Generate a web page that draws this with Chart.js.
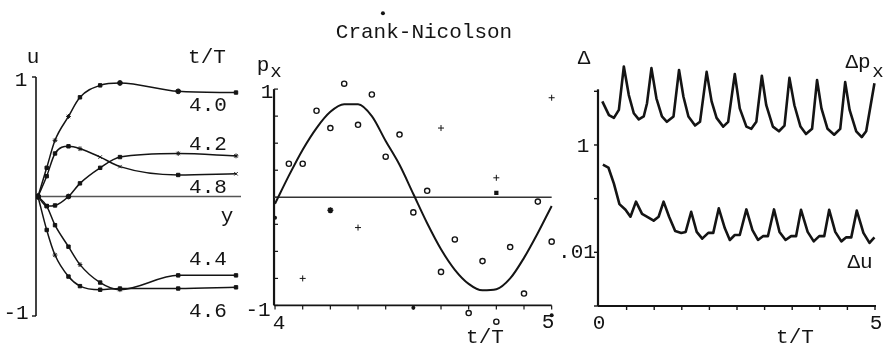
<!DOCTYPE html>
<html>
<head>
<meta charset="utf-8">
<script src="https://cdn.jsdelivr.net/npm/chart.js@4/dist/chart.umd.min.js"></script>
<style>
  html, body { margin: 0; padding: 0; background: #fff; }
  #wrap { position: relative; width: 891px; height: 348px; overflow: hidden; background: #fff; }
  #wrap canvas { position: absolute; left: 0; top: 0; }
  .t { position: absolute; font-family: "Liberation Mono", monospace; font-size: 21px; color: #141414;
       line-height: 1; white-space: nowrap; transform: translate(-50%, -50%); }
  .s { position: absolute; font-family: "Liberation Mono", monospace; font-size: 19px; color: #141414;
       line-height: 1; white-space: nowrap; transform: translate(-50%, -50%); }
</style>
</head>
<body>
<div id="wrap">
  <canvas id="c1" width="891" height="348"></canvas>
  <canvas id="c2" width="891" height="348"></canvas>
  <canvas id="c3" width="891" height="348"></canvas>

  <!-- velocity profiles -->
  <div class="t" style="left:33px;top:57px">u</div>
  <div class="t" style="left:207px;top:57px">t/T</div>
  <div class="t" style="left:21px;top:80px">1</div>
  <div class="t" style="left:16px;top:313px">-1</div>
  <div class="t" style="left:208px;top:105px">4.0</div>
  <div class="t" style="left:208px;top:144px">4.2</div>
  <div class="t" style="left:208px;top:187px">4.8</div>
  <div class="t" style="left:227px;top:216px">y</div>
  <div class="t" style="left:208px;top:259px">4.4</div>
  <div class="t" style="left:208px;top:311px">4.6</div>

  <!-- pressure gradient -->
  <div class="t" style="left:424px;top:32px">Crank-Nicolson</div>
  <div class="t" style="left:263px;top:65px">p</div>
  <div class="s" style="left:276px;top:72px">x</div>
  <div class="t" style="left:267px;top:92px">1</div>
  <div class="t" style="left:258px;top:310px">-1</div>
  <div class="t" style="left:279px;top:323px">4</div>
  <div class="t" style="left:548px;top:322px">5</div>
  <div class="t" style="left:485px;top:337px">t/T</div>

  <!-- error history -->
  <div class="t" style="left:584px;top:58px">Δ</div>
  <div class="t" style="left:858px;top:62px">Δp</div>
  <div class="s" style="left:878px;top:72px">x</div>
  <div class="t" style="left:583px;top:146px">1</div>
  <div class="t" style="left:577px;top:252px">.01</div>
  <div class="t" style="left:860px;top:262px">Δu</div>
  <div class="t" style="left:599px;top:323px">0</div>
  <div class="t" style="left:876px;top:323px">5</div>
  <div class="t" style="left:795px;top:337px">t/T</div>
</div>

<script>
// ---- velocity profiles u(y) at t/T = 4.0 ... 4.8 ----
const yGrid = [0, 0.22, 0.43, 0.77, 1.06, 1.57, 2.07, 3.54, 5.0];
const u40 = [0, 0.24, 0.47, 0.67, 0.83, 0.93, 0.95, 0.88, 0.87];
const u42 = [0, -0.08, -0.075, 0, 0.11, 0.24, 0.33, 0.36, 0.34];
const u44 = [0, -0.08, -0.24, -0.42, -0.57, -0.72, -0.78, -0.66, -0.66];
const u46 = [0, -0.28, -0.49, -0.67, -0.75, -0.78, -0.77, -0.77, -0.76];
const u48 = [0, 0.17, 0.36, 0.42, 0.40, 0.33, 0.25, 0.18, 0.19];

// ---- pressure gradient p_x over one period ----
const tPx = [4.00, 4.05, 4.10, 4.15, 4.20, 4.25, 4.30, 4.35, 4.40, 4.45, 4.50,
             4.55, 4.60, 4.65, 4.70, 4.75, 4.80, 4.85, 4.90, 4.95, 5.00];
const pxExact = [-0.06, 0.20, 0.44, 0.64, 0.79, 0.86, 0.86, 0.75, 0.52, 0.30, 0.03,
                 -0.24, -0.48, -0.67, -0.80, -0.86, -0.85, -0.75, -0.56, -0.33, -0.08];
const tCircle = [4.05, 4.10, 4.15, 4.20, 4.25, 4.30, 4.35, 4.40, 4.45, 4.50,
                 4.55, 4.60, 4.65, 4.70, 4.75, 4.80, 4.85, 4.90, 4.95, 5.00];
const pxCircle = [0.31, 0.31, 0.80, 0.64, 1.05, 0.67, 0.95, 0.375, 0.58, -0.14,
                  0.06, -0.69, -0.39, -1.07, -0.59, -1.15, -0.46, -0.89, -0.04, -0.41];
const tPlus = [4.10, 4.30, 4.60, 4.80, 5.00];
const pxPlus = [-0.75, -0.28, 0.64, 0.18, 0.92];
const tDot = [4.00, 4.50, 5.00, 4.39];
const pxDot = [-0.19, -1.02, -1.09, 1.70];
const tStar = [4.20];
const pxStar = [-0.12];
const tSquare = [4.80];
const pxSquare = [0.04];

// ---- error history (log scale) ----
const tDp = [0.06, 0.18, 0.27, 0.36, 0.45, 0.54, 0.63, 0.72, 0.81, 0.87,
             0.95, 1.04, 1.14, 1.23, 1.35, 1.45, 1.53, 1.62, 1.74, 1.83,
             1.95, 2.04, 2.13, 2.25, 2.34, 2.46, 2.55, 2.67, 2.76, 2.85,
             2.95, 3.03, 3.15, 3.26, 3.36, 3.45, 3.54, 3.65, 3.75, 3.86,
             3.95, 4.03, 4.14, 4.26, 4.37, 4.46, 4.54, 4.66, 4.76, 4.84, 4.99];
const dp = [6.5, 3.6, 3.2, 4.5, 29, 8.5, 3.9, 3.0, 3.4, 6.0,
            27, 7.4, 3.4, 2.7, 3.4, 25, 7.9, 3.4, 2.3, 2.7,
            23, 6.5, 3.2, 2.2, 2.7, 21, 4.8, 2.2, 2.0, 2.7,
            19.5, 5.5, 2.2, 1.8, 2.3, 17.8, 5.5, 2.2, 1.6, 2.0,
            16.2, 4.8, 2.0, 1.55, 2.0, 14.8, 4.5, 1.8, 1.4, 1.8, 14.1];
const tDu = [0.07, 0.17, 0.27, 0.37, 0.48, 0.57, 0.67, 0.78, 0.89, 0.99,
             1.08, 1.17, 1.27, 1.38, 1.49, 1.57, 1.67, 1.77, 1.87, 1.98,
             2.07, 2.17, 2.28, 2.37, 2.46, 2.55, 2.67, 2.78, 2.88, 2.97,
             3.06, 3.17, 3.27, 3.38, 3.48, 3.57, 3.66, 3.78, 3.89, 3.99,
             4.08, 4.17, 4.28, 4.39, 4.48, 4.57, 4.67, 4.79, 4.90, 4.99];
const du = [0.43, 0.38, 0.19, 0.079, 0.062, 0.046, 0.088, 0.052, 0.045, 0.039,
            0.046, 0.088, 0.046, 0.025, 0.023, 0.024, 0.057, 0.024, 0.018, 0.023,
            0.023, 0.066, 0.028, 0.017, 0.021, 0.021, 0.063, 0.026, 0.017, 0.020,
            0.020, 0.063, 0.024, 0.017, 0.020, 0.020, 0.062, 0.024, 0.016, 0.020,
            0.020, 0.062, 0.024, 0.016, 0.019, 0.019, 0.060, 0.023, 0.015, 0.019];

const INK = '#141414';
const zip = (xs, ys) => xs.map((x, i) => ({ x, y: ys[i] }));

function baseOptions(pad, xs, ys) {
  return {
    responsive: false,
    animation: false,
    devicePixelRatio: 1,
    layout: { padding: pad },
    plugins: { legend: { display: false }, tooltip: { enabled: false } },
    scales: { x: Object.assign({ type: 'linear', display: false }, xs),
              y: Object.assign({ type: 'linear', display: false }, ys) }
  };
}

function line(ctx, x1, y1, x2, y2, w) {
  ctx.lineWidth = w;
  ctx.beginPath();
  ctx.moveTo(x1, y1);
  ctx.lineTo(x2, y2);
  ctx.stroke();
}

// axes for the velocity profiles: bracketed u-axis and the u = 0 line
const axes1 = {
  id: 'axes1',
  beforeDatasetsDraw(chart) {
    const { ctx, chartArea: a, scales: { x, y } } = chart;
    ctx.save();
    ctx.strokeStyle = INK;
    const yt = y.getPixelForValue(1), yb = y.getPixelForValue(-1), y0 = y.getPixelForValue(0);
    line(ctx, a.left, yt, a.left, yb, 1.6);
    line(ctx, a.left - 4, yt, a.left, yt, 1.4);
    line(ctx, a.left - 4, yb, a.left, yb, 1.4);
    ctx.strokeStyle = '#555';
    line(ctx, a.left, y0, a.right, y0, 1.4);
    ctx.restore();
  }
};

// axes for p_x(t): frame spans t = 4..5 and p_x = -1..1
const axes2 = {
  id: 'axes2',
  beforeDatasetsDraw(chart) {
    const { ctx, scales: { x, y } } = chart;
    const xl = x.getPixelForValue(4) - 1, xr = x.getPixelForValue(5);
    const yt = y.getPixelForValue(1), yb = y.getPixelForValue(-1);
    ctx.save();
    ctx.strokeStyle = INK;
    line(ctx, xl, yt, xl, yb, 2.2);
    line(ctx, xl, yb, xr, yb, 1.8);
    for (let v = -1; v <= 1.0001; v += 0.25) {
      const p = y.getPixelForValue(v);
      line(ctx, xl, p, xl + 4, p, 1.2);
    }
    for (let k = 0; k <= 10; k++) {
      const p = x.getPixelForValue(4 + k / 10);
      line(ctx, p, yb, p, yb + 4, 1.2);
    }
    ctx.strokeStyle = '#333';
    const y0 = y.getPixelForValue(0);
    line(ctx, xl, y0, xr, y0, 1.6);
    ctx.restore();
  }
};

// axes for the error history
const axes3 = {
  id: 'axes3',
  beforeDatasetsDraw(chart) {
    const { ctx, chartArea: a, scales: { x, y } } = chart;
    ctx.save();
    ctx.strokeStyle = INK;
    line(ctx, a.left - 1, a.top - 2, a.left - 1, a.bottom, 2.2);
    line(ctx, a.left - 1, a.bottom, a.right + 1, a.bottom, 2.0);
    [0.001, 0.01, 0.1, 1, 10].forEach(v => {
      const p = y.getPixelForValue(v);
      line(ctx, a.left - 5, p, a.left - 1, p, 1.4);
    });
    for (let k = 1; k <= 10; k++) {
      const p = x.getPixelForValue(k / 2);
      line(ctx, p, a.bottom, p, a.bottom + 4, 1.4);
    }
    ctx.restore();
  }
};

function profile(data, style) {
  return {
    data: zip(yGrid, data),
    borderColor: INK, borderWidth: 1.5,
    backgroundColor: INK, pointBorderColor: INK,
    pointStyle: style, pointRadius: 2.4, pointBorderWidth: 1,
    cubicInterpolationMode: 'monotone', fill: false
  };
}

new Chart(document.getElementById('c1'), {
  type: 'line',
  data: { datasets: [
    profile(u40, ['circle', 'rect', 'star', 'star', 'rect', 'rect', 'circle', 'circle', 'rect']),
    profile(u42, ['circle', 'rect', 'rect', 'circle', 'rect', 'rect', 'rect', 'star', 'star']),
    profile(u44, ['circle', 'rect', 'rect', 'rect', 'star', 'rect', 'star', 'rect', 'rect']),
    profile(u46, ['circle', 'rect', 'star', 'rect', 'rect', 'rect', 'rect', 'rect', 'rect']),
    profile(u48, ['circle', 'rect', 'rect', 'rect', 'star', 'crossRot', 'crossRot', 'rect', 'crossRot'])
  ] },
  options: baseOptions({ left: 36, top: 77, right: 650, bottom: 32 },
                       { min: -0.05, max: 5.126 }, { min: -1, max: 1 }),
  plugins: [axes1]
});

// p_x panel: the value range is opened past the frame so stray points stay visible
new Chart(document.getElementById('c2'), {
  type: 'line',
  data: { datasets: [
    { data: zip(tPx, pxExact), borderColor: INK, borderWidth: 2, pointRadius: 0,
      cubicInterpolationMode: 'monotone', fill: false },
    { data: zip(tCircle, pxCircle), showLine: false, pointStyle: 'circle', pointRadius: 2.6,
      pointBorderWidth: 1.4, pointBorderColor: INK, pointBackgroundColor: '#fff' },
    { data: zip(tPlus, pxPlus), showLine: false, pointStyle: 'cross', pointRadius: 3,
      pointBorderWidth: 1, pointBorderColor: INK },
    { data: zip(tDot, pxDot), showLine: false, pointStyle: 'circle', pointRadius: 2,
      pointBorderWidth: 0, pointBackgroundColor: INK },
    { data: zip(tStar, pxStar), showLine: false, pointStyle: 'star', pointRadius: 3,
      pointBorderWidth: 1.6, pointBorderColor: INK },
    { data: zip(tSquare, pxSquare), showLine: false, pointStyle: 'rect', pointRadius: 3,
      pointBorderWidth: 0, pointBackgroundColor: INK }
  ] },
  options: baseOptions({ left: 269.5, top: 7.95, right: 333.8, bottom: 20.9 },
                       { min: 3.98, max: 5.02 }, { min: -1.2, max: 1.75 }),
  plugins: [axes2]
});

new Chart(document.getElementById('c3'), {
  type: 'line',
  data: { datasets: [
    { data: zip(tDp, dp), borderColor: INK, borderWidth: 2.6, pointRadius: 0, tension: 0,
      fill: false, borderJoinStyle: 'round', clip: false },
    { data: zip(tDu, du), borderColor: INK, borderWidth: 2.6, pointRadius: 0, tension: 0,
      fill: false, borderJoinStyle: 'round', clip: false }
  ] },
  options: baseOptions({ left: 599, top: 91.3, right: 16, bottom: 42 },
                       { min: 0, max: 5 }, { type: 'logarithmic', min: 0.001, max: 10 }),
  plugins: [axes3]
});
</script>
</body>
</html>
